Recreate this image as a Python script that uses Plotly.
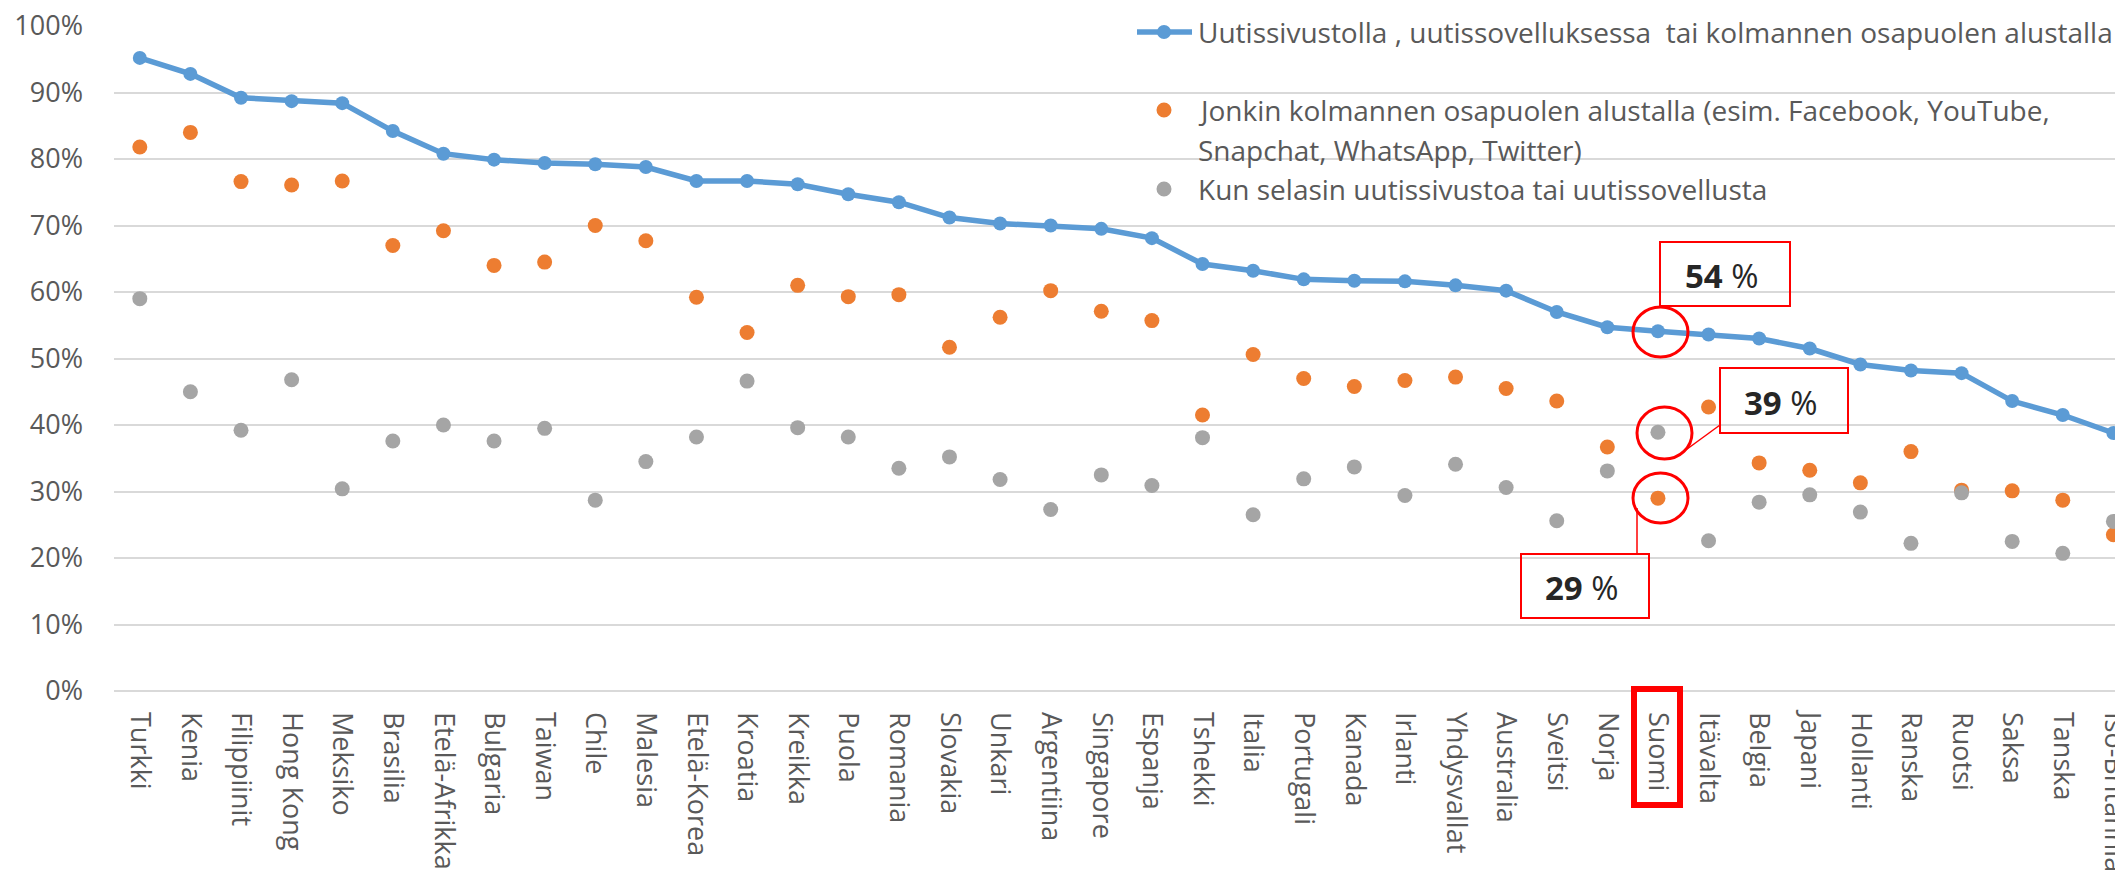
import plotly.graph_objects as go

maat = [
    "Turkki", "Kenia", "Filippiinit", "Hong Kong", "Meksiko", "Brasilia",
    "Etelä-Afrikka", "Bulgaria", "Taiwan", "Chile", "Malesia", "Etelä-Korea",
    "Kroatia", "Kreikka", "Puola", "Romania", "Slovakia", "Unkari",
    "Argentiina", "Singapore", "Espanja", "Tshekki", "Italia", "Portugali",
    "Kanada", "Irlanti", "Yhdysvallat", "Australia", "Sveitsi", "Norja",
    "Suomi", "Itävalta", "Belgia", "Japani", "Hollanti", "Ranska", "Ruotsi",
    "Saksa", "Tanska", "Iso-Britannia",
]

uutissivusto_tai_alusta = [
    95.2, 92.8, 89.2, 88.7, 88.4, 84.2, 80.8, 79.9, 79.4, 79.2, 78.8, 76.7,
    76.7, 76.2, 74.7, 73.5, 71.2, 70.3, 70.0, 69.5, 68.1, 64.2, 63.2, 61.9,
    61.7, 61.6, 61.0, 60.2, 57.0, 54.7, 54.1, 53.6, 53.0, 51.5, 49.1, 48.2,
    47.8, 43.6, 41.5, 38.8,
]

kolmannen_osapuolen_alusta = [
    81.8, 84.0, 76.6, 76.1, 76.7, 67.0, 69.2, 64.0, 64.5, 70.0, 67.7, 59.2,
    53.9, 61.0, 59.3, 59.6, 51.7, 56.2, 60.2, 57.1, 55.7, 41.5, 50.6, 47.0,
    45.8, 46.7, 47.2, 45.5, 43.6, 36.7, 29.0, 42.7, 34.3, 33.2, 31.3, 36.0,
    30.2, 30.1, 28.7, 23.5,
]

uutissivusto_selaamalla = [
    59.0, 45.0, 39.2, 46.8, 30.4, 37.6, 40.0, 37.6, 39.5, 28.7, 34.5, 38.2,
    46.6, 39.6, 38.2, 33.5, 35.2, 31.8, 27.3, 32.5, 30.9, 38.1, 26.5, 31.9,
    33.7, 29.4, 34.1, 30.6, 25.6, 33.1, 38.9, 22.6, 28.4, 29.5, 26.9, 22.2,
    29.8, 22.5, 20.7, 25.5,
]

y_ticks = [0, 10, 20, 30, 40, 50, 60, 70, 80, 90, 100]

NIMI_SININEN = "Uutissivustolla , uutissovelluksessa\u00a0 tai kolmannen osapuolen alustalla"
NIMI_ORANSSI_1 = "Jonkin kolmannen osapuolen alustalla (esim. Facebook, YouTube,"
NIMI_ORANSSI_2 = "Snapchat, WhatsApp, Twitter)"
NIMI_HARMAA = "Kun selasin uutissivustoa tai uutissovellusta"

SININEN = "#5B9BD5"
ORANSSI = "#ED7D31"
HARMAA = "#A5A5A5"
PUNAINEN = "#FF0000"
TEKSTI = "#595959"
FONTTI = "Open Sans, Liberation Sans, sans-serif"

# selaimen body-marginaali siirtää kuvaa 8 px oikealle ja alas
OFFSET = 8
WIDTH, HEIGHT = 2123 - OFFSET, 877 - OFFSET
PLOT_LEFT, PLOT_TOP, PLOT_BOTTOM = 114, 26, 691  # ruudun pikseleinä


def _paper(x_px: float, y_px: float) -> tuple[float, float]:
    xp = (x_px - PLOT_LEFT) / (2123 - PLOT_LEFT)
    yp = (PLOT_BOTTOM - y_px) / (PLOT_BOTTOM - PLOT_TOP)
    return xp, yp


def _rect(x0, y0, x1, y1, width=2, kind="rect") -> dict:
    px0, py0 = _paper(x0, y1)
    px1, py1 = _paper(x1, y0)
    return dict(
        type=kind, xref="paper", yref="paper",
        x0=px0, y0=py0, x1=px1, y1=py1,
        line=dict(color=PUNAINEN, width=width),
        layer="above",
    )


def _line(x0, y0, x1, y1, color=PUNAINEN, width=1.5) -> dict:
    px0, py0 = _paper(x0, y0)
    px1, py1 = _paper(x1, y1)
    return dict(
        type="line", xref="paper", yref="paper",
        x0=px0, y0=py0, x1=px1, y1=py1,
        line=dict(color=color, width=width),
        layer="above",
    )


def _dot(x, y, color, r=7.5) -> dict:
    px0, py0 = _paper(x - r, y + r)
    px1, py1 = _paper(x + r, y - r)
    return dict(
        type="circle", xref="paper", yref="paper",
        x0=px0, y0=py0, x1=px1, y1=py1,
        fillcolor=color, line=dict(color=color, width=0),
        layer="above",
    )


def _text(x, y, text, size=28, color=TEKSTI, xanchor="left") -> dict:
    xp, yp = _paper(x, y)
    return dict(
        x=xp, y=yp, xref="paper", yref="paper",
        text=text, showarrow=False,
        xanchor=xanchor, yanchor="middle",
        font=dict(family=FONTTI, size=size, color=color),
    )


fig = go.Figure()

fig.add_trace(
    go.Scatter(
        x=maat,
        y=uutissivusto_tai_alusta,
        mode="lines+markers",
        line=dict(color=SININEN, width=5.5),
        marker=dict(color=SININEN, size=14),
        name=NIMI_SININEN,
        showlegend=False,
    )
)

fig.add_trace(
    go.Scatter(
        x=maat,
        y=kolmannen_osapuolen_alusta,
        mode="markers",
        marker=dict(color=ORANSSI, size=15),
        name=NIMI_ORANSSI_1 + " " + NIMI_ORANSSI_2,
        showlegend=False,
    )
)

fig.add_trace(
    go.Scatter(
        x=maat,
        y=uutissivusto_selaamalla,
        mode="markers",
        marker=dict(color=HARMAA, size=15),
        name=NIMI_HARMAA,
        showlegend=False,
    )
)

shapes = [
    # oma selite
    _line(1137, 32, 1192, 32, color=SININEN, width=5.5),
    _dot(1164, 32, SININEN, r=7),
    _dot(1164, 110, ORANSSI),
    _dot(1164, 189, HARMAA),
    # Suomen korostukset
    _rect(1660, 242, 1790, 306),
    _rect(1720, 368, 1848, 433),
    _rect(1521, 554, 1649, 618),
    _rect(1633, 307, 1688, 357, width=3, kind="circle"),
    _rect(1637, 407, 1692, 459, width=3, kind="circle"),
    _rect(1633, 473, 1688, 523, width=3, kind="circle"),
    _line(1720, 425, 1683, 452),
    _line(1637, 508, 1637, 554),
    _rect(1634, 689, 1680, 805, width=6),
]

annotations = [
    _text(1196, 32, NIMI_SININEN),
    _text(1196, 110, NIMI_ORANSSI_1),
    _text(1196, 150, NIMI_ORANSSI_2),
    _text(1196, 189, NIMI_HARMAA),
    _text(1722, 275, "<b>54</b> %", size=33, color="#262626", xanchor="center"),
    _text(1781, 402, "<b>39</b> %", size=33, color="#262626", xanchor="center"),
    _text(1582, 587, "<b>29</b> %", size=33, color="#262626", xanchor="center"),
]

fig.update_layout(
    width=WIDTH,
    height=HEIGHT,
    margin=dict(
        l=PLOT_LEFT - OFFSET,
        r=0,
        t=PLOT_TOP - OFFSET,
        b=877 - PLOT_BOTTOM,
    ),
    paper_bgcolor="white",
    plot_bgcolor="white",
    showlegend=False,
    shapes=shapes,
    annotations=annotations,
    xaxis=dict(
        type="category",
        range=[-0.51, 39.19],
        tickangle=90,
        showgrid=False,
        showline=False,
        ticks="",
        automargin=False,
        ticklabeloverflow="allow",
        ticklabelstandoff=20,
        tickfont=dict(family=FONTTI, size=27, color=TEKSTI),
    ),
    yaxis=dict(
        range=[0, 100],
        tickvals=y_ticks,
        ticktext=[f"{v}%" for v in y_ticks],
        showgrid=True,
        gridcolor="#D9D9D9",
        gridwidth=2,
        zeroline=True,
        zerolinecolor="#D9D9D9",
        zerolinewidth=2,
        showline=False,
        ticks="",
        automargin=False,
        ticklabeloverflow="allow",
        ticklabelstandoff=30,
        tickfont=dict(family=FONTTI, size=27, color=TEKSTI),
    ),
)

fig.write_html("out.html")
